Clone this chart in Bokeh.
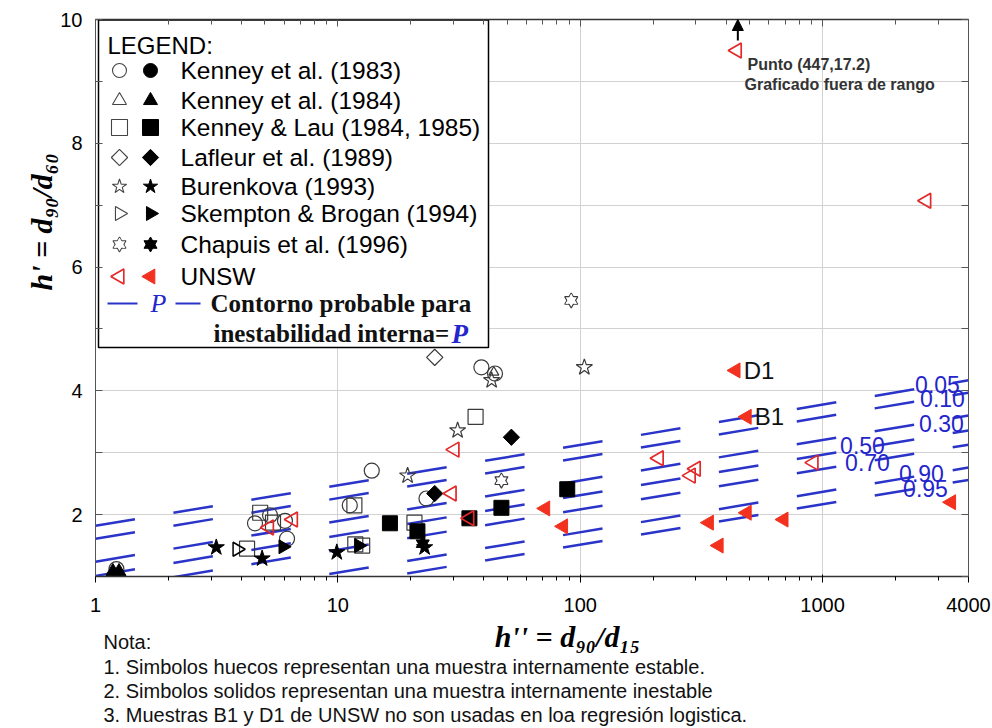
import math
from bokeh.plotting import figure
from bokeh.layouts import column
from bokeh.models import (FixedTicker, LogAxis, LinearAxis, Label, Arrow, Title,
                          NormalHead, Range1d, BasicTickFormatter, CustomJSTickFormatter)
from bokeh.core.properties import value
from bokeh.embed import file_html
from bokeh.resources import INLINE

# ---------------- data ----------------
x_tick_values = [1, 10, 100, 1000, 4000]
x_minor = [2, 3, 4, 5, 6, 7, 8, 9, 20, 30, 40, 50, 60, 70, 80, 90,
           200, 300, 400, 500, 600, 700, 800, 900, 2000, 3000]
x_grid = [1, 10, 100, 1000]
y_tick_values = [2, 4, 6, 8, 10]
y_minor = [3, 5, 7, 9]
y_grid = [1, 2, 3, 4, 5, 6, 7, 8, 9, 10]

# Kenney et al. (1983) - circles
k83_open_x = [13.8, 39.1, 44.5, 11.2, 23.2, 4.55, 5.25, 6.05, 6.17, 1.22]
k83_open_y = [2.71, 4.38, 4.28, 2.15, 2.26, 1.86, 1.99, 1.90, 1.61, 1.12]
k83_solid_x = []
k83_solid_y = []
# Kenney et al. (1984) - triangles
k84_open_x = [44.0]
k84_open_y = [4.30]
k84_solid_x = [1.18, 1.25]
k84_solid_y = [1.08, 1.08]
# Kenney & Lau (1984, 1985) - squares
kl_open_x = [37.0, 11.7, 20.7, 4.22, 4.78, 5.4, 11.8, 12.6]
kl_open_y = [3.58, 2.15, 1.87, 1.45, 2.03, 1.87, 1.52, 1.50]
kl_solid_x = [16.4, 21.3, 34.9, 47.3, 88.4]
kl_solid_y = [1.86, 1.73, 1.94, 2.11, 2.41]
# Lafleur et al. (1989) - diamonds
laf_open_x = [25.1]
laf_open_y = [4.54]
laf_solid_x = [25.1, 52.0]
laf_solid_y = [2.34, 3.25]
# Burenkova (1993) - stars
bur_open_x = [31.2, 19.4, 43.1, 104.0]
bur_open_y = [3.36, 2.63, 4.17, 4.38]
bur_solid_x = [3.15, 4.87, 9.9, 22.8]
bur_solid_y = [1.47, 1.29, 1.39, 1.47]
# Skempton & Brogan (1994) - right triangles
skb_open_x = [3.84]
skb_open_y = [1.44]
skb_solid_x = [5.94, 12.2]
skb_solid_y = [1.48, 1.50]
# Chapuis et al. (1996) - hexagrams
cha_open_x = [47.3, 91.8]
cha_open_y = [2.55, 5.46]
cha_solid_x = [22.4]
cha_solid_y = [1.53]
# UNSW - left triangles (red)
unsw_open_x = [30.3, 29.5, 5.20, 6.53, 34.9, 211, 286, 300, 918, 2679, 443]
unsw_open_y = [3.05, 2.34, 1.79, 1.92, 1.94, 2.91, 2.63, 2.74, 2.84, 7.07, 9.50]
unsw_solid_x = [71.8, 85.1, 438, 487, 340, 487, 373, 691, 3395]
unsw_solid_y = [2.10, 1.81, 4.33, 3.58, 1.87, 2.03, 1.50, 1.92, 2.20]
named_labels = ["D1", "B1"]
named_x = [438, 487]
named_y = [4.33, 3.58]
offrange_x = 447
offrange_y = 17.2

# probability contours: h' at h''=1 and at h''=4000
contour_labels = ["0.05", "0.10", "0.30", "0.50", "0.70", "0.90", "0.95"]
contour_x_ends = [1, 4000]
contour_h_start = [1.82, 1.61, 1.24, 1.01, 0.78, 0.41, 0.21]
contour_h_end = [4.17, 3.97, 3.60, 3.36, 3.13, 2.76, 2.56]

legend_names = ["Kenney et al. (1983)", "Kenney et al. (1984)",
                "Kenney & Lau (1984, 1985)", "Lafleur et al. (1989)",
                "Burenkova (1993)", "Skempton & Brogan (1994)",
                "Chapuis et al. (1996)", "UNSW"]
legend_kinds = ["circle", "triangle", "square", "diamond", "star", "right",
                "hexagram", "left"]

notes = ["Nota:",
         "1. Simbolos huecos representan una muestra internamente estable.",
         "2. Simbolos solidos representan una muestra internamente inestable",
         "3. Muestras  B1 y D1 de UNSW no son usadas en loa regresi\u00f3n logistica."]

# ---------------- layout helpers (page pixel -> data) ----------------
FL, FT, FW, FH = 95.0, 19.0, 873.0, 557.0
FR = 992 - FL - FW
XMIN, XMAX, YMIN, YMAX = 1.0, 4000.0, 1.0, 10.0
LX = math.log10(XMAX)
W_ALL, H_MAIN, H_NOTES = 992, 618, 110


def dx(px):
    return 10 ** ((px - FL) / FW * LX)


def dy(py):
    return YMIN + (FT + FH - py) / FH * (YMAX - YMIN)


SANS = "Liberation Sans"
SERIF = "Liberation Serif"
RED = "#f2311f"
RED_LINE = "#e3282a"
BLUE = "#2a34c8"
LBLUE = "#2525cc"
OPEN_LINE = "#3a3a3a"

p = figure(width=W_ALL, height=H_MAIN, x_axis_type="log",
           x_range=Range1d(XMIN, XMAX), y_range=Range1d(YMIN, YMAX),
           output_backend="svg", toolbar_location=None,
           min_border_left=int(FL), min_border_right=int(FR),
           min_border_top=int(FT), min_border_bottom=int(H_MAIN - FT - FH))
p.background_fill_color = "white"
p.border_fill_color = "white"
p.outline_line_color = "#555555"

# axes
p.xaxis.ticker = FixedTicker(ticks=x_tick_values, minor_ticks=x_minor)
p.xaxis.formatter = BasicTickFormatter()
p.yaxis.ticker = FixedTicker(ticks=y_tick_values, minor_ticks=y_minor)
for ax in [p.xaxis[0], p.yaxis[0]]:
    ax.major_label_text_font = SANS
    ax.major_label_text_font_size = "20px"
    ax.major_label_text_color = "black"
p.xaxis.major_label_standoff = 15
p.yaxis.major_label_standoff = 13

top = LogAxis(ticker=FixedTicker(ticks=x_tick_values, minor_ticks=x_minor),
              formatter=CustomJSTickFormatter(code="return '';"),
              major_label_standoff=0, major_label_text_font_size="1px")
right = LinearAxis(ticker=FixedTicker(ticks=y_grid),
                   formatter=CustomJSTickFormatter(code="return '';"),
                   major_label_standoff=0, major_label_text_font_size="1px")
p.add_layout(top, "above")
p.add_layout(right, "right")

for ax in [p.xaxis[0], p.yaxis[0], top, right]:
    ax.major_tick_in = 7
    ax.major_tick_out = 0
    ax.minor_tick_in = 5
    ax.minor_tick_out = 0
    ax.axis_line_color = "#555555"
    ax.major_tick_line_color = "#555555"
    ax.minor_tick_line_color = "#555555"
p.yaxis.minor_tick_in = 7
p.xaxis.axis_line_color = "#333333"
p.xaxis.axis_line_width = 1.5
right.minor_tick_line_color = None

p.xgrid.ticker = FixedTicker(ticks=x_grid)
p.ygrid.ticker = FixedTicker(ticks=y_grid)
p.xgrid.grid_line_color = "#d2d2d2"
p.ygrid.grid_line_color = "#d2d2d2"

# y axis title (left side, starting 286px above the frame bottom)
p.add_layout(Title(text="h' = d\u2089\u2080/d\u2086\u2080", align="left", offset=286,
                   standoff=0, text_font=SERIF, text_font_size="30px",
                   text_font_style="bold italic", text_color="black"), "left")

# ---------------- contours ----------------
for h0, h1 in zip(contour_h_start, contour_h_end):
    p.line(contour_x_ends, [h0, h1], line_color=BLUE, line_width=2.5,
           line_dash="40 39")

contour_label_px = [(937, 384), (942, 398), (941, 423), (862, 445),
                    (867, 462), (921, 473), (925, 488)]
for txt, (px, py) in zip(contour_labels, contour_label_px):
    p.add_layout(Label(x=dx(px), y=dy(py), text=txt, text_font=SANS,
                       text_font_size="23px", text_color=LBLUE,
                       text_align="center", text_baseline="middle"))

# ---------------- marker drawing ----------------
MK = {
    "circle": ("circle", 0.0, 15),
    "triangle": ("triangle", 0.0, 14),
    "square": ("square", 0.0, 15),
    "diamond": ("square", math.pi / 4, 11.5),
    "star": ("star", 0.0, 17),
    "right": ("triangle", -math.pi / 2, 14),
    "left": ("triangle", math.pi / 2, 15),
}


def draw(kind, xs, ys, filled, color, line_color, lw=1.2, size=None):
    if len(xs) == 0:
        return
    if kind == "hexagram":
        s = size or 13
        if filled:
            p.scatter(xs, ys, marker="triangle", size=s, fill_color=color,
                      line_color=color)
            p.scatter(xs, ys, marker="inverted_triangle", size=s,
                      fill_color=color, line_color=color)
        else:
            p.scatter(xs, ys, marker="triangle", size=s, fill_color="white",
                      line_color=line_color, line_width=lw)
            p.scatter(xs, ys, marker="inverted_triangle", size=s,
                      fill_color="white", line_color=line_color, line_width=lw)
            p.scatter(xs, ys, marker="triangle", size=s - 1.5,
                      fill_color="white", line_color=None)
        return
    m, ang, s0 = MK[kind]
    s = size or s0
    if filled:
        p.scatter(xs, ys, marker=m, angle=ang, size=s, fill_color=color,
                  line_color=color, line_width=1)
    else:
        p.scatter(xs, ys, marker=m, angle=ang, size=s, fill_color=None,
                  line_color=line_color, line_width=lw)


draw("circle", k83_open_x, k83_open_y, False, None, OPEN_LINE)
draw("triangle", k84_open_x, k84_open_y, False, None, OPEN_LINE, size=10)
draw("square", kl_open_x, kl_open_y, False, None, OPEN_LINE)
draw("diamond", laf_open_x, laf_open_y, False, None, OPEN_LINE)
draw("star", bur_open_x, bur_open_y, False, None, OPEN_LINE)
draw("right", skb_open_x, skb_open_y, False, None, "black", lw=1.5)
draw("hexagram", cha_open_x, cha_open_y, False, None, OPEN_LINE)

draw("circle", k83_solid_x, k83_solid_y, True, "black", "black")
draw("triangle", k84_solid_x, k84_solid_y, True, "black", "black")
draw("square", kl_solid_x, kl_solid_y, True, "black", "black")
draw("diamond", laf_solid_x, laf_solid_y, True, "black", "black")
draw("star", bur_solid_x, bur_solid_y, True, "black", "black")
draw("right", skb_solid_x, skb_solid_y, True, "black", "black")
draw("hexagram", cha_solid_x, cha_solid_y, True, "black", "black")

draw("left", unsw_open_x, unsw_open_y, False, None, RED_LINE, lw=1.7)
draw("left", unsw_solid_x, unsw_solid_y, True, RED, RED)

for t, x, y in zip(named_labels, named_x, named_y):
    p.add_layout(Label(x=x, y=y, x_offset=8, text=t, text_font=SANS,
                       text_font_size="24px", text_color="#111111",
                       text_baseline="middle"))

# out-of-range point arrow + note
p.add_layout(Arrow(end=NormalHead(size=11, fill_color="black",
                                  line_color="black"),
                   x_start=offrange_x, y_start=dy(40),
                   x_end=offrange_x, y_end=YMAX,
                   line_color="black", line_width=2))
p.add_layout(Label(x=dx(747), y=dy(64), text="Punto (%d,%.1f)" % (offrange_x, offrange_y),
                   text_font=SANS, text_font_size="16px", text_font_style="bold",
                   text_color="#333333", text_baseline="middle"))
p.add_layout(Label(x=dx(744), y=dy(84), text="Graficado fuera de rango",
                   text_font=SANS, text_font_size="16px", text_font_style="bold",
                   text_color="#333333", text_baseline="middle"))

# ---------------- legend (manual) ----------------
p.quad(left=[dx(98)], right=[dx(488)], bottom=[dy(347)], top=[dy(19.5)],
       fill_color="white", line_color="black", line_width=1.5)
p.add_layout(Label(x=dx(107), y=dy(45), text="LEGEND:", text_font=SANS,
                   text_font_size="24px", text_color="black",
                   text_baseline="middle"))
row_px = [70, 100, 127, 157, 186, 213, 244, 276]
legend_size = {"circle": 14, "triangle": 14, "square": 16, "diamond": 11.5,
               "star": 15, "right": 14, "hexagram": 13, "left": 15}
for name, kind, py in zip(legend_names, legend_kinds, row_px):
    is_red = kind == "left"
    col = RED if is_red else "black"
    lcol = RED_LINE if is_red else "#444444"
    draw(kind, [dx(119)], [dy(py)], False, None, lcol,
         lw=1.6 if is_red else 1.1, size=legend_size[kind])
    draw(kind, [dx(150)], [dy(py)], True, col, col, size=legend_size[kind])
    p.add_layout(Label(x=dx(180), y=dy(py), text=name, text_font=SANS,
                       text_font_size="24.5px", text_color="black",
                       text_baseline="middle"))

p.line([dx(107), dx(137)], [dy(303), dy(303)], line_color=BLUE, line_width=2)
p.line([dx(175), dx(200)], [dy(303), dy(303)], line_color=BLUE, line_width=2)
p.add_layout(Label(x=dx(158), y=dy(303), text="P", text_font=SERIF,
                   text_font_size="26px", text_font_style="italic",
                   text_color=LBLUE, text_align="center", text_baseline="middle"))
p.add_layout(Label(x=dx(210), y=dy(303), text="Contorno probable para",
                   text_font=SERIF, text_font_size="25px", text_font_style="bold",
                   text_color="#111111", text_baseline="middle"))
p.add_layout(Label(x=dx(213), y=dy(333), text="inestabilidad interna=",
                   text_font=SERIF, text_font_size="25px", text_font_style="bold",
                   text_color="#111111", text_baseline="middle"))
p.add_layout(Label(x=dx(451), y=dy(333), text="P", text_font=SERIF,
                   text_font_size="27px", text_font_style="bold italic",
                   text_color=LBLUE, text_baseline="middle"))

# ---------------- bottom strip: x title and notes ----------------
# this strip's frame is aligned with the main frame (x from FL to FL+FW),
# so its x range is set so that x equals the page pixel column.
q = figure(width=W_ALL, height=H_NOTES, x_range=Range1d(FL, FL + FW),
           y_range=Range1d(H_NOTES, 0), output_backend="svg",
           toolbar_location=None, x_axis_location=None, y_axis_location=None,
           min_border_left=int(FL), min_border_right=int(FR),
           min_border_top=0, min_border_bottom=0)
q.grid.visible = False
q.outline_line_color = None
q.background_fill_color = "white"
q.border_fill_color = "white"

q.text(x=[567], y=[636 - H_MAIN], text=["h'' = d\u2089\u2080/d\u2081\u2085"],
       text_font=value(SERIF), text_font_size=value("30px"),
       text_font_style="bold italic", text_color="black",
       text_align="center", text_baseline="middle")
q.text(x=[103] * len(notes), y=[641 - H_MAIN, 666 - H_MAIN, 690 - H_MAIN, 714 - H_MAIN],
       text=notes, text_font=value(SANS), text_font_size=value("20px"),
       text_color="#111111", text_align="left", text_baseline="middle")

layout = column(p, q, spacing=0)
open("out.html", "w").write(file_html(layout, INLINE))
